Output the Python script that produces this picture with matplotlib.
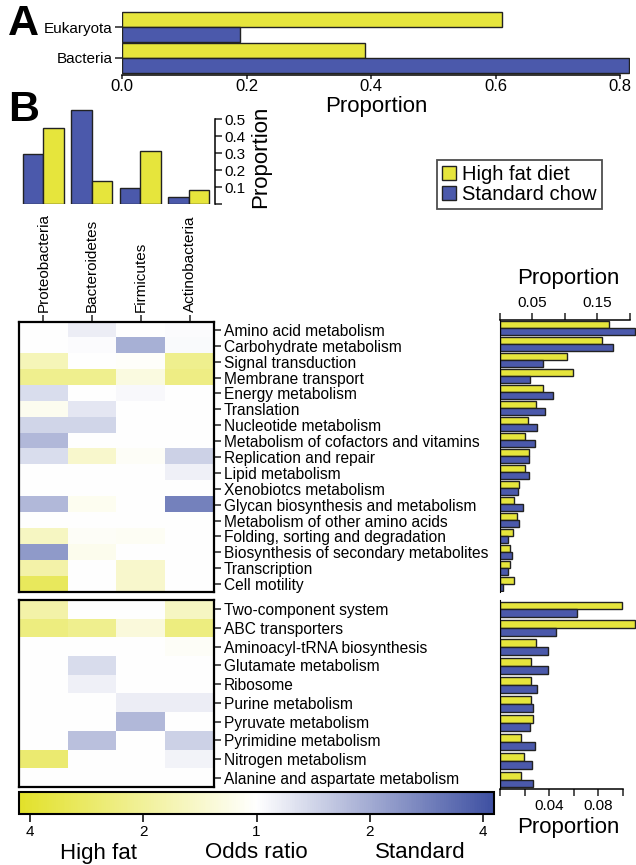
import numpy as np
import matplotlib
import matplotlib.pyplot as plt
from matplotlib.colors import LinearSegmentedColormap, Normalize
from matplotlib.cm import ScalarMappable
from matplotlib.patches import Patch

plt.rcParams['font.family'] = ['Liberation Sans', 'DejaVu Sans']

# Panel A
domains = ['Eukaryota', 'Bacteria']
domain_hf = [0.61, 0.39]
domain_sc = [0.19, 0.815]

# Panel B, phyla
phyla = ['Proteobacteria', 'Bacteroidetes', 'Firmicutes', 'Actinobacteria']
phyla_hf = [0.447, 0.135, 0.31, 0.084]
phyla_sc = [0.294, 0.553, 0.096, 0.04]

# KEGG level 2 pathways
paths_top = ['Amino acid metabolism', 'Carbohydrate metabolism', 'Signal transduction',
             'Membrane transport', 'Energy metabolism', 'Translation',
             'Nucleotide metabolism', 'Metabolism of cofactors and vitamins',
             'Replication and repair', 'Lipid metabolism', 'Xenobiotcs metabolism',
             'Glycan biosynthesis and metabolism', 'Metabolism of other amino acids',
             'Folding, sorting and degradation', 'Biosynthesis of secondary metabolites',
             'Transcription', 'Cell motility']
hf_top = [0.169, 0.157, 0.103, 0.112, 0.066, 0.056, 0.044, 0.039, 0.045, 0.039,
          0.030, 0.022, 0.027, 0.020, 0.015, 0.015, 0.021]
sc_top = [0.209, 0.174, 0.066, 0.047, 0.082, 0.070, 0.057, 0.054, 0.045, 0.045,
          0.028, 0.035, 0.029, 0.013, 0.019, 0.012, 0.004]
# log2 odds ratio per phylum (negative = high fat, positive = standard)
odds_top = [[0.0, 0.2, 0.0, 0.04],
            [0.0, 0.04, 0.95, 0.06],
            [-0.7, 0.0, -0.04, -1.1],
            [-1.1, -1.1, -0.3, -1.2],
            [0.4, 0.0, 0.07, 0.0],
            [-0.15, 0.28, 0.0, 0.0],
            [0.5, 0.5, 0.0, 0.0],
            [0.85, 0.0, 0.0, 0.0],
            [0.4, -0.5, -0.07, 0.55],
            [0.0, 0.0, 0.0, 0.17],
            [0.0, 0.0, 0.0, 0.0],
            [0.85, -0.14, 0.0, 1.5],
            [0.0, 0.0, 0.0, 0.0],
            [-0.6, -0.07, -0.1, 0.0],
            [1.2, -0.17, 0.0, 0.0],
            [-0.85, 0.0, -0.5, 0.0],
            [-1.6, 0.0, -0.5, 0.0]]

# KEGG level 3 pathways
paths_bot = ['Two-component system', 'ABC transporters', 'Aminoacyl-tRNA biosynthesis',
             'Glutamate metabolism', 'Ribosome', 'Purine metabolism',
             'Pyruvate metabolism', 'Pyrimidine metabolism', 'Nitrogen metabolism',
             'Alanine and aspartate metabolism']
hf_bot = [0.0997, 0.110, 0.0292, 0.0251, 0.0254, 0.0251, 0.0273, 0.0175, 0.0194, 0.0172]
sc_bot = [0.0628, 0.0453, 0.0388, 0.0393, 0.0306, 0.0273, 0.0243, 0.0284, 0.0259, 0.0273]
odds_bot = [[-0.85, 0.0, 0.0, -0.6],
            [-1.25, -1.1, -0.35, -1.25],
            [0.0, 0.0, 0.0, -0.07],
            [0.0, 0.42, 0.0, 0.0],
            [0.0, 0.17, 0.0, 0.0],
            [0.0, 0.0, 0.2, 0.2],
            [0.0, 0.0, 0.85, 0.0],
            [0.0, 0.75, 0.0, 0.55],
            [-1.4, 0.0, 0.0, 0.14],
            [0.0, 0.0, 0.0, 0.0]]

cbar_ticks = [-2, -1, 0, 1, 2]
cbar_labels = ['4', '2', '1', '2', '4']

yellow = '#e6e53c'
blue = '#4b59ab'
edge = '#222222'
cmap = LinearSegmentedColormap.from_list('hfsc', ['#e2e12a', '#ffffff', '#3e50a2'])
norm = Normalize(vmin=-2.1, vmax=2.1)

W, H = 636, 865
fig = plt.figure(figsize=(W / 100, H / 100), dpi=100)


def ax_px(x0, y0, x1, y1):
    return fig.add_axes([x0 / W, 1 - y1 / H, (x1 - x0) / W, (y1 - y0) / H])


def style_ticks(ax, size=11):
    ax.tick_params(width=1.1, length=5, labelsize=size, color='#222222', pad=2)
    for s in ax.spines.values():
        s.set_linewidth(1.1)


# ---- Panel A
axA = ax_px(122, 10, 630, 75)
yA = np.arange(len(domains))[::-1]
axA.barh(yA + 0.24, domain_hf, height=0.48, color=yellow, edgecolor=edge, linewidth=1)
axA.barh(yA - 0.24, domain_sc, height=0.48, color=blue, edgecolor=edge, linewidth=1)
axA.set_ylim(-0.55, 1.55)
axA.set_xlim(0, 0.816)
axA.set_yticks(yA)
axA.set_yticklabels(domains)
axA.set_xticks([0, 0.2, 0.4, 0.6, 0.8])
axA.set_xticklabels(['0.0', '0.2', '0.4', '0.6', '0.8'])
for s in ['top', 'right', 'left']:
    axA.spines[s].set_visible(False)
axA.spines['bottom'].set_bounds(0, 0.8)
style_ticks(axA, 11)
axA.tick_params(axis='x', labelsize=12, length=3, pad=0)
axA.set_xlabel('Proportion', fontsize=16, labelpad=1)

fig.text(8 / W, 1 - 4 / H, 'A', fontsize=31, fontweight='bold', va='top', ha='left')
fig.text(8 / W, 1 - 90 / H, 'B', fontsize=31, fontweight='bold', va='top', ha='left')

# ---- Panel B, phyla bars
axP = ax_px(19, 109, 215, 204)
xP = np.arange(len(phyla))
axP.bar(xP - 0.21, phyla_sc, width=0.42, color=blue, edgecolor=edge, linewidth=1)
axP.bar(xP + 0.21, phyla_hf, width=0.42, color=yellow, edgecolor=edge, linewidth=1)
axP.set_xlim(-0.5, 3.54)
axP.set_ylim(0, 0.56)
for s in ['top', 'left', 'bottom']:
    axP.spines[s].set_visible(False)
axP.spines['right'].set_bounds(0, 0.5)
axP.yaxis.tick_right()
axP.set_yticks([0, 0.1, 0.2, 0.3, 0.4, 0.5])
axP.set_yticklabels(['', '0.1', '0.2', '0.3', '0.4', '0.5'])
axP.set_xticks([])
style_ticks(axP, 11)
axP.yaxis.set_label_position('right')
axP.set_ylabel('Proportion', fontsize=16, labelpad=3)

# legend
handles = [Patch(facecolor=yellow, edgecolor=edge), Patch(facecolor=blue, edgecolor=edge)]
fig.legend(handles, ['High fat diet', 'Standard chow'], loc='upper left',
           bbox_to_anchor=(437 / W, 1 - 160 / H), fontsize=14.5, frameon=True,
           fancybox=False, edgecolor=edge, handlelength=0.7, handleheight=0.7,
           handletextpad=0.3, borderpad=0.25, labelspacing=0.05, borderaxespad=0)
fig.legends[0].get_frame().set_linewidth(1.3)


def heat(ax, odds, labels, top_labels):
    ax.imshow(np.array(odds), cmap=cmap, norm=norm, aspect='auto', interpolation='nearest')
    ax.yaxis.tick_right()
    ax.set_yticks(range(len(labels)))
    ax.set_yticklabels(labels)
    if top_labels:
        ax.xaxis.tick_top()
        ax.set_xticks(range(len(phyla)))
        ax.set_xticklabels(phyla, rotation=90)
    else:
        ax.set_xticks([])
    style_ticks(ax, 11.2)
    for s in ax.spines.values():
        s.set_linewidth(1.6)


axH1 = ax_px(19, 322, 214, 592)
heat(axH1, odds_top, paths_top, True)
axH1.tick_params(axis='x', labelsize=11)
axH2 = ax_px(19, 600, 214, 787)
heat(axH2, odds_bot, paths_bot, False)


def side_bars(ax, hf, sc, h):
    y = np.arange(len(hf))
    ax.barh(y - h / 2, hf, height=h, color=yellow, edgecolor=edge, linewidth=1)
    ax.barh(y + h / 2, sc, height=h, color=blue, edgecolor=edge, linewidth=1)
    ax.set_ylim(len(hf) - 0.5, -0.5)
    ax.set_yticks([])


axR1 = ax_px(500, 320, 636, 592)
side_bars(axR1, hf_top, sc_top, 0.45)
axR1.set_xlim(0, 0.21)
axR1.xaxis.tick_top()
axR1.set_xticks([0, 0.05, 0.1, 0.15, 0.2])
axR1.set_xticklabels(['', '0.05', '', '0.15', ''])
style_ticks(axR1, 11)
axR1.spines['bottom'].set_visible(False)
axR1.spines['right'].set_visible(False)
axR1.spines['top'].set_bounds(0, 0.2)
axR1.spines['left'].set_linewidth(0.8)
axR1.xaxis.set_label_position('top')
axR1.set_xlabel('Proportion', fontsize=16, labelpad=9)

axR2 = ax_px(500, 600, 636, 789)
side_bars(axR2, hf_bot, sc_bot, 0.42)
axR2.set_xlim(0, 0.111)
axR2.set_xticks([0, 0.02, 0.04, 0.06, 0.08, 0.1])
axR2.set_xticklabels(['', '', '0.04', '', '0.08', ''])
style_ticks(axR2, 11)
axR2.spines['top'].set_visible(False)
axR2.spines['right'].set_visible(False)
axR2.spines['bottom'].set_bounds(0, 0.1)
axR2.spines['left'].set_linewidth(0.8)
axR2.set_xlabel('Proportion', fontsize=16, labelpad=3)

# colour bar
cax = ax_px(19, 792, 494, 814)
cb = fig.colorbar(ScalarMappable(norm=norm, cmap=cmap), cax=cax, orientation='horizontal')
cb.set_ticks(cbar_ticks)
cb.set_ticklabels(cbar_labels)
cb.outline.set_linewidth(1.5)
cax.tick_params(width=1.1, length=6, labelsize=11, pad=2)

fig.text(98 / W, 1 - 853 / H, 'High fat', fontsize=16, ha='center', va='center')
fig.text(256 / W, 1 - 853 / H, 'Odds ratio', fontsize=16, ha='center', va='center')
fig.text(420 / W, 1 - 853 / H, 'Standard', fontsize=16, ha='center', va='center')

fig.savefig('out.png', dpi=100)
